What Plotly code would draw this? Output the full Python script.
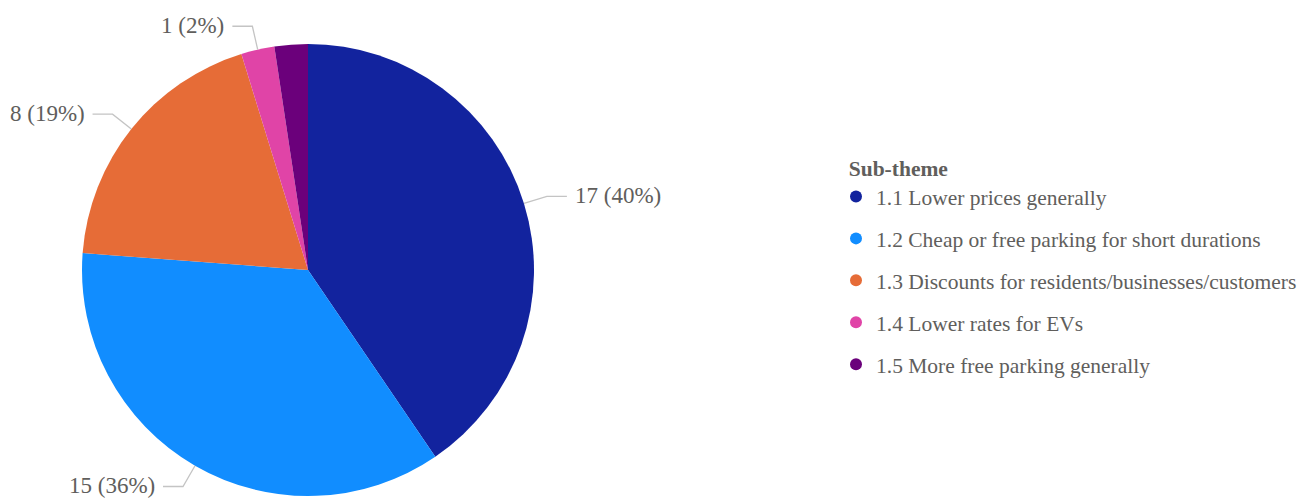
import math
import plotly.graph_objects as go

# Sub-theme counts
categories = [
    "1.1 Lower prices generally",
    "1.2 Cheap or free parking for short durations",
    "1.3 Discounts for residents/businesses/customers",
    "1.4 Lower rates for EVs",
    "1.5 More free parking generally",
]
counts = [17, 15, 8, 1, 1]
colors = ["#12239E", "#118DFF", "#E66C37", "#E044A7", "#6B007B"]
show_label = [True, True, True, True, False]

W, H = 1302, 500
FONT = "Liberation Serif, Times New Roman, serif"
TEXT_COLOR = "#605E5C"

# pie geometry in pixels
cx, cy, R = 308, 270, 226


def px(x):
    return x / W


def py(y):
    return 1 - y / H


fig = go.Figure()

fig.add_trace(go.Pie(
    labels=categories,
    values=counts,
    marker=dict(colors=colors, line=dict(width=0)),
    sort=False,
    direction="clockwise",
    rotation=0,
    textinfo="none",
    hoverinfo="label+value+percent",
    showlegend=False,
    domain=dict(x=[px(cx - R), px(cx + R)], y=[py(cy + R), py(cy - R)]),
))

# Legend entries with circular markers
for i, (name, c) in enumerate(zip(categories, colors)):
    fig.add_trace(go.Scatter(
        x=[None], y=[None], mode="markers", name=name,
        marker=dict(color=c, size=15, symbol="circle"),
        legendgroup=f"g{i}", showlegend=True,
    ))

# Outside labels with leader lines
total = sum(counts)
cum = 0
shapes = []
annotations = []
for v, show in zip(counts, show_label):
    mid = (cum + v / 2) / total * 2 * math.pi
    cum += v
    if not show:
        continue
    sx, sy = math.sin(mid), -math.cos(mid)
    x0, y0 = cx + R * sx, cy + R * sy
    x1, y1 = cx + (R + 24) * sx, cy + (R + 24) * sy
    right = sx >= 0
    x2 = x1 + (20 if right else -20)
    shapes.append(dict(
        type="path", xref="paper", yref="paper",
        path=f"M {px(x0)} {py(y0)} L {px(x1)} {py(y1)} L {px(x2)} {py(y1)}",
        line=dict(color="#C4C4C4", width=1.3),
    ))
    pct = round(v / total * 100)
    annotations.append(dict(
        x=px(x2 + (6 if right else -6)), y=py(y1 - 1), xref="paper", yref="paper",
        text=f"{v} ({pct}%)", showarrow=False,
        xanchor="left" if right else "right", yanchor="middle",
        font=dict(family=FONT, size=23, color=TEXT_COLOR),
    ))

fig.update_layout(
    width=W, height=H,
    margin=dict(l=0, r=0, t=0, b=0),
    paper_bgcolor="white", plot_bgcolor="white",
    xaxis=dict(visible=False), yaxis=dict(visible=False),
    shapes=shapes, annotations=annotations,
    legend=dict(
        title=dict(text="&nbsp;&nbsp;<b>Sub-theme</b>",
                   font=dict(family=FONT, size=21.5, color=TEXT_COLOR)),
        font=dict(family=FONT, size=21.5, color=TEXT_COLOR),
        x=px(836), y=py(148), xanchor="left", yanchor="top",
        tracegroupgap=11, itemsizing="constant",
        bgcolor="rgba(0,0,0,0)",
    ),
)

fig.write_html("out.html")
